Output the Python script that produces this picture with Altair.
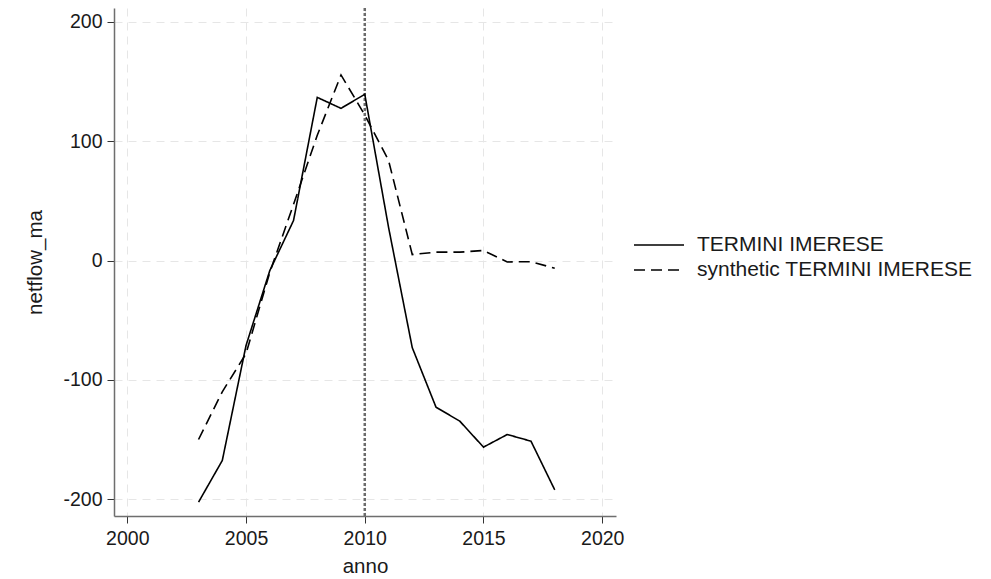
import altair as alt
import pandas as pd

# ---- data ----
years = list(range(2003, 2019))
treated = [-202.5, -167.6, -71.2, -8.5, 33.5, 136.7, 127.5, 139.3,
           28.0, -73.0, -122.9, -134.6, -156.4, -145.8, -151.4, -192.2]
synthetic = [-150.0, -110.0, -78.0, -10.0, 47.0, 105.0, 155.5, 122.0,
             84.0, 5.0, 7.0, 7.0, 8.4, -1.2, -1.0, -6.5]
series_names = ["TERMINI IMERESE", "synthetic TERMINI IMERESE"]
event_year = [2010]
x_ticks = [2000, 2005, 2010, 2015, 2020]
y_ticks = [-200, -100, 0, 100, 200]

df = pd.DataFrame({
    "anno": years + years,
    "netflow_ma": treated + synthetic,
    "series": [series_names[0]] * len(years) + [series_names[1]] * len(years),
})
ev = pd.DataFrame({"anno": event_year})

FONT = "Liberation Sans"
FS_TICK = 19.5
FS_TITLE = 20.5
FS_LEG = 21

x_scale = alt.Scale(domain=[1999.44, 2020.58], nice=False, zero=False)
y_scale = alt.Scale(domain=[-214.1, 211.6], nice=False, zero=False)

x_axis = alt.Axis(values=x_ticks, labelExpr="'' + datum.value", title="anno", grid=True,
                  gridColor="#e6e6e6", gridDash=[8, 6], gridWidth=1,
                  domainColor="#6e6e6e", domainWidth=1.5,
                  tickColor="#333333", tickSize=7, tickWidth=1,
                  labelFontSize=FS_TICK, labelColor="#1a1a1a", labelPadding=6,
                  titleFontSize=FS_TITLE, titleFontWeight="normal", titleColor="#1a1a1a",
                  titlePadding=9)
y_axis = alt.Axis(values=y_ticks, labelExpr="'' + datum.value", title="netflow_ma", grid=True,
                  gridColor="#e6e6e6", gridDash=[8, 6], gridWidth=1,
                  domainColor="#6e6e6e", domainWidth=1.5,
                  tickColor="#333333", tickSize=7, tickWidth=1,
                  labelFontSize=FS_TICK, labelColor="#1a1a1a", labelPadding=5,
                  titleFontSize=FS_TITLE, titleFontWeight="normal", titleColor="#1a1a1a",
                  titlePadding=17)

# legend symbol: a 50px horizontal stroke (custom path, scaled by sqrt(size)/2 = 10)
lines = alt.Chart(df).mark_line(color="black", strokeWidth=1.6).encode(
    x=alt.X("anno:Q", scale=x_scale, axis=x_axis),
    y=alt.Y("netflow_ma:Q", scale=y_scale, axis=y_axis),
    strokeDash=alt.StrokeDash(
        "series:N",
        scale=alt.Scale(domain=series_names, range=[[1, 0], [11, 6]]),
        legend=alt.Legend(
            title=None, orient="none", legendX=534, legendY=226,
            symbolType="M-2.5,0H2.5", symbolSize=400, symbolStrokeWidth=1.6,
            symbolStrokeColor="black", symbolFillColor="transparent",
            labelFontSize=FS_LEG, labelColor="#1a1a1a",
            labelOffset=27, rowPadding=4, labelLimit=400,
        ),
    ),
    detail="series:N",
)

rule = alt.Chart(ev).mark_rule(color="#6b6b6b", strokeWidth=2.5, strokeDash=[3, 2]).encode(
    x=alt.X("anno:Q", scale=x_scale),
)

chart = alt.layer(rule, lines).properties(
    width=502, height=508,
    padding={"left": 106, "top": 0, "right": 367, "bottom": 63},
    autosize=alt.AutoSizeParams(type="none"),
).configure(font=FONT).configure_view(stroke=None)

chart.save("out.html", embed_options={"renderer": "svg", "actions": False})
